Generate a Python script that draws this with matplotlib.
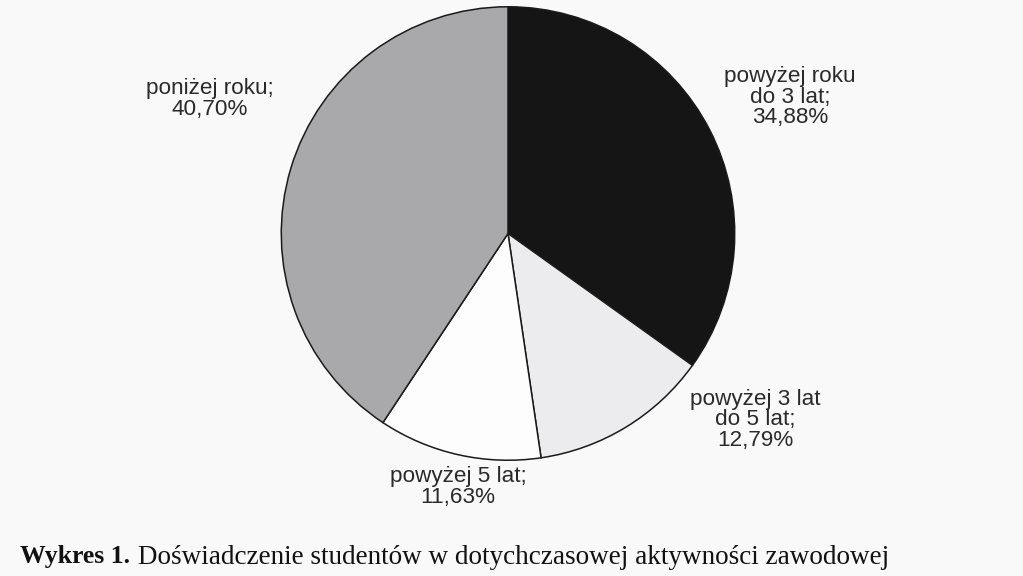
import matplotlib.pyplot as plt

# data
categories = ["powyżej roku\ndo 3 lat", "powyżej 3 lat\ndo 5 lat", "powyżej 5 lat", "poniżej roku"]
shares = [34.88, 12.79, 11.63, 40.70]
colors = ["#151515", "#ececee", "#fdfdfd", "#a9a9ab"]

# label positions in pixels (centre x, centre y from top)
label_pos = [(790, 97), (755, 420), (458, 487), (210, 99)]

W, H = 1023, 576
fig = plt.figure(figsize=(W / 100, H / 100), dpi=100)
fig.patch.set_facecolor("#f9f9f9")

cx, cy, r = 508, 233.5, 229
ax = fig.add_axes([(cx - r) / W, (H - cy - r) / H, 2 * r / W, 2 * r / H])
ax.pie(shares, colors=colors, startangle=90, counterclock=False, radius=1,
       wedgeprops=dict(edgecolor="#1a1a1a", linewidth=1.1))
ax.set_xlim(-1.01, 1.01)
ax.set_ylim(-1.01, 1.01)
ax.set_aspect("equal")
ax.axis("off")

for cat, val, (px, py) in zip(categories, shares, label_pos):
    txt = f"{cat};\n{val:.2f}%".replace(".", ",")
    fig.text(px / W, 1 - py / H, txt, ha="center", va="center",
             fontsize=16.2, family="Liberation Sans", color="#2a2a2a",
             linespacing=0.95)

fig.text(20 / W, 1 - 557 / H, "Wykres 1.", family="Liberation Serif",
         fontsize=18.5, fontweight="bold", va="center", color="#111111")
fig.text(138 / W, 1 - 557 / H,
         "Doświadczenie studentów w dotychczasowej aktywności zawodowej",
         family="Liberation Serif", fontsize=19.5, va="center", color="#111111")

fig.savefig("out.png", dpi=100, facecolor=fig.get_facecolor())
